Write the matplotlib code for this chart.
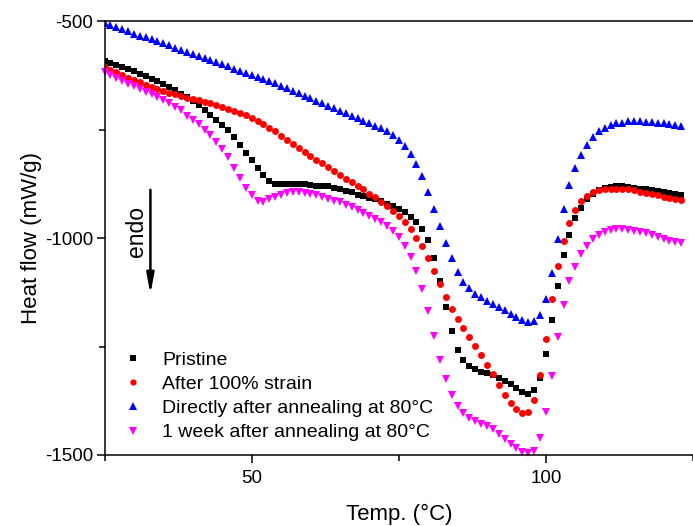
import matplotlib
matplotlib.use('Agg')
import matplotlib.pyplot as plt

plt.rcParams['font.family'] = ['Liberation Sans', 'DejaVu Sans']
plt.rcParams['axes.unicode_minus'] = False

# DSC curves, one point per degree from 25 to 123 C
temp = list(range(25, 124))

pristine = [
    -592, -597, -601, -606, -610, -615, -621, -627, -633, -639,
    -645, -652, -660, -668, -675, -685, -694, -705, -717, -727,
    -740, -751, -768, -786, -805, -820, -838, -855, -869, -875,
    -876, -875, -875, -876, -876, -877, -879, -880, -881, -884,
    -888, -891, -895, -900, -904, -907, -909, -915, -921, -927,
    -932, -940, -951, -962, -979, -1005, -1045, -1100, -1160, -1215,
    -1258, -1282, -1296, -1302, -1308, -1311, -1316, -1323, -1329, -1336,
    -1346, -1355, -1359, -1351, -1323, -1268, -1190, -1110, -1040, -992,
    -955, -930, -911, -898, -889, -885, -882, -880, -881, -882,
    -884, -886, -887, -889, -891, -894, -896, -898, -901]

strained = [
    -605, -612, -618, -625, -631, -636, -641, -647, -652, -657,
    -661, -665, -668, -673, -677, -680, -683, -687, -690, -694,
    -698, -703, -707, -712, -717, -724, -731, -738, -746, -753,
    -766, -775, -784, -792, -801, -810, -820, -828, -836, -845,
    -854, -863, -872, -879, -888, -898, -906, -916, -927, -938,
    -950, -964, -979, -999, -1019, -1047, -1077, -1107, -1136, -1163,
    -1187, -1208, -1229, -1249, -1270, -1292, -1313, -1338, -1362, -1380,
    -1395, -1403, -1400, -1373, -1316, -1232, -1140, -1065, -1007, -965,
    -935, -914, -903, -894, -890, -888, -887, -887, -887, -888,
    -890, -893, -896, -898, -901, -905, -907, -909, -912]

annealed = [
    -505, -509, -514, -519, -524, -530, -534, -537, -542, -547,
    -551, -556, -561, -566, -571, -576, -580, -586, -590, -594,
    -599, -604, -610, -615, -620, -624, -629, -633, -638, -643,
    -649, -655, -661, -666, -673, -678, -684, -690, -696, -701,
    -707, -713, -718, -724, -730, -736, -741, -747, -753, -762,
    -773, -788, -806, -829, -857, -894, -933, -972, -1011, -1047,
    -1078, -1102, -1116, -1128, -1137, -1144, -1151, -1158, -1167, -1176,
    -1183, -1190, -1194, -1191, -1177, -1140, -1080, -1003, -934, -878,
    -838, -808, -785, -767, -754, -746, -739, -736, -734, -731,
    -730, -730, -732, -733, -735, -736, -737, -740, -742]

week_after = [
    -617, -624, -632, -639, -644, -650, -656, -663, -668, -674,
    -681, -688, -697, -706, -718, -727, -738, -750, -763, -778,
    -794, -814, -838, -862, -885, -901, -915, -917, -911, -905,
    -900, -896, -895, -894, -896, -898, -901, -905, -909, -914,
    -918, -925, -929, -935, -942, -949, -956, -963, -972, -984,
    -998, -1018, -1043, -1075, -1118, -1168, -1225, -1280, -1325, -1361,
    -1386, -1403, -1414, -1421, -1428, -1434, -1441, -1451, -1463, -1474,
    -1485, -1493, -1495, -1490, -1462, -1400, -1318, -1228, -1155, -1100,
    -1066, -1037, -1018, -1003, -992, -985, -981, -979, -979, -981,
    -984, -986, -989, -994, -998, -1002, -1006, -1009, -1012]

labels = ['Pristine', 'After 100% strain',
          'Directly after annealing at 80\u00b0C', '1 week after annealing at 80\u00b0C']

fig = plt.figure(figsize=(6.93, 5.26), dpi=100)
ax = fig.add_axes([0.1508, 0.135, 0.8492, 0.825])

ax.plot(temp, pristine, 's', color='black', ms=4.3, mew=0, label=labels[0])
ax.plot(temp, strained, 'o', color='red', ms=5, mew=0, label=labels[1])
ax.plot(temp, annealed, '^', color='blue', ms=6, mew=0, label=labels[2])
ax.plot(temp, week_after, 'v', color='magenta', ms=6, mew=0, label=labels[3], clip_on=False)

ax.set_xlim(25, 123.6)
ax.set_ylim(-1500, -500)
ax.set_xticks([50, 100])
ax.set_xticks([25, 75, 125], minor=True)
ax.set_yticks([-1500, -1000, -500])
ax.set_yticks([-1250, -750], minor=True)
ax.tick_params(which='major', direction='out', length=6, width=1.1, labelsize=13.5, pad=2)
ax.tick_params(axis='x', which='major', pad=5)
ax.tick_params(which='minor', direction='out', length=4, width=1.1)
ax.spines['right'].set_visible(False)
for s in ['left', 'top', 'bottom']:
    ax.spines[s].set_linewidth(1.1)

ax.set_xlabel('Temp. (\u00b0C)', fontsize=16, labelpad=12)
ax.set_ylabel('Heat flow (mW/g)', fontsize=16, labelpad=2)

# endo arrow
ax.annotate('', xy=(32.8, -1130), xytext=(32.8, -889),
            arrowprops=dict(arrowstyle='-|>,head_width=0.22,head_length=1.2', color='black',
                            lw=1.8, shrinkA=0, shrinkB=0))
ax.text(30.5, -984, 'endo', rotation=90, fontsize=16.5, ha='center', va='center')

ax.legend(loc='lower left', bbox_to_anchor=(0.009, 0.0), frameon=False, fontsize=14,
          handlelength=1.0, handletextpad=1.0, labelspacing=0.34, markerscale=0.9,
          borderaxespad=0.5, borderpad=0.2)

fig.savefig('out.png', dpi=100)
